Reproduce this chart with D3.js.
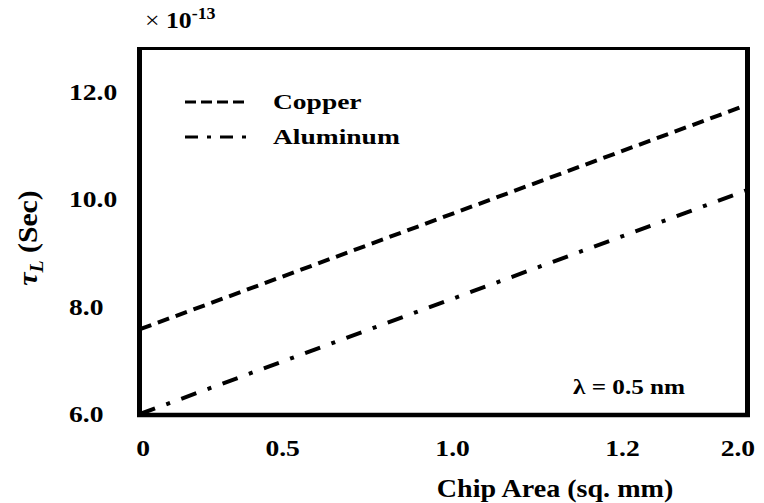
<!DOCTYPE html>
<html>
<head>
<meta charset="utf-8">
<script src="https://cdn.jsdelivr.net/npm/d3@7"></script>
<style>
  body { margin: 0; background: #fff; }
</style>
</head>
<body>
<svg id="chart" width="764" height="503"></svg>
<script>
// chip area (sq. mm) and tau_L (x 1e-13 s)
const chipArea = [0, 2.0];
const copper = [7.58, 11.76];
const aluminum = [6.0, 10.17];

const seriesNames = ['Copper', 'Aluminum'];
const yTicks = [6.0, 8.0, 10.0, 12.0];
const xTickLabels = ['0', '0.5', '1.0', '1.2', '2.0'];
const xTickAt = [0.01, 0.47, 1.03, 1.59, 1.97]; // where the labels sit on the axis

const svg = d3.select('#chart');
const plotL = 140, plotR = 747, plotT = 48.5, plotB = 414;
const serif = 'Liberation Serif';

let x = d3.scaleLinear().domain([0, 2]).range([plotL, plotR]);
let y = d3.scaleLinear().domain([6, 12]).range([plotB, 92]);

// stretched bold serif text like the original picture
function label(g, txt, px, py, size, sx, anchor) {
  return g.append('text')
    .attr('transform', 'translate(' + px + ',' + py + ') scale(' + sx + ',1)')
    .attr('font-family', serif)
    .attr('font-weight', 'bold')
    .attr('font-size', size)
    .attr('text-anchor', anchor || 'start')
    .text(txt);
}

// frame
svg.append('line').attr('x1', plotL - 0.5).attr('x2', plotL - 0.5).attr('y1', plotT - 1.5).attr('y2', plotB + 2.5)
  .attr('stroke', '#000').attr('stroke-width', 5);
svg.append('line').attr('x1', plotL - 3).attr('x2', plotR + 3).attr('y1', plotB + 1).attr('y2', plotB + 1)
  .attr('stroke', '#000').attr('stroke-width', 4.5);
svg.append('line').attr('x1', plotL - 3).attr('x2', plotR + 3).attr('y1', plotT).attr('y2', plotT)
  .attr('stroke', '#000').attr('stroke-width', 3);
svg.append('line').attr('x1', plotR + 0.5).attr('x2', plotR + 0.5).attr('y1', plotT - 1.5).attr('y2', plotB + 2.5)
  .attr('stroke', '#000').attr('stroke-width', 5);

// y tick labels
let yg = svg.append('g');
yTicks.forEach(v => {
  label(yg, v.toFixed(1), 69, y(v) + 8, 23, 1.2);
});

// x tick labels
let xg = svg.append('g');
xTickLabels.forEach((t, i) => {
  label(xg, t, x(xTickAt[i]), 456, 23, 1.2, 'middle');
});

// axis titles
label(svg, 'Chip Area (sq. mm)', 555, 497, 26, 1.08, 'middle');

let yl = svg.append('text')
  .attr('transform', 'translate(37,238) rotate(-90) scale(1.1,1)')
  .attr('font-family', serif)
  .attr('font-weight', 'bold')
  .attr('font-size', 27)
  .attr('text-anchor', 'middle');
yl.append('tspan').attr('font-style', 'italic').text('\u03c4');
yl.append('tspan').attr('font-style', 'italic').attr('font-size', 18).attr('dy', 6).text('L');
yl.append('tspan').attr('dy', -6).text(' (Sec)');

// exponent
let ex = svg.append('text')
  .attr('transform', 'translate(145,28) scale(1.12,1)')
  .attr('font-family', serif)
  .attr('font-weight', 'bold')
  .attr('font-size', 23);
ex.append('tspan').attr('font-weight', 'normal').text('\u00d7 ');
ex.append('tspan').text('10');
ex.append('tspan').attr('font-size', 16).attr('dy', -9).text('-13');

// lines
const dashes = ['12,7', '16,12,4,12'];
const line = d3.line().x(d => x(d[0])).y(d => y(d[1]));
[copper, aluminum].forEach((s, i) => {
  svg.append('path')
    .datum(chipArea.map((a, j) => [a, s[j]]))
    .attr('d', line)
    .attr('fill', 'none')
    .attr('stroke', '#000')
    .attr('stroke-width', 4)
    .attr('stroke-dasharray', dashes[i]);
});

// legend
const legDash = ['11,5', '13,9,4,9'];
seriesNames.forEach((n, i) => {
  let ly = 102 + i * 35;
  svg.append('line').attr('x1', 185).attr('x2', 247).attr('y1', ly).attr('y2', ly)
    .attr('stroke', '#000').attr('stroke-width', 3).attr('stroke-dasharray', legDash[i]);
  label(svg, n, 273, ly + 7, 22, 1.25);
});

// wavelength note
label(svg, '\u03bb = 0.5 nm', 573, 394, 21, 1.2);
</script>
</body>
</html>
